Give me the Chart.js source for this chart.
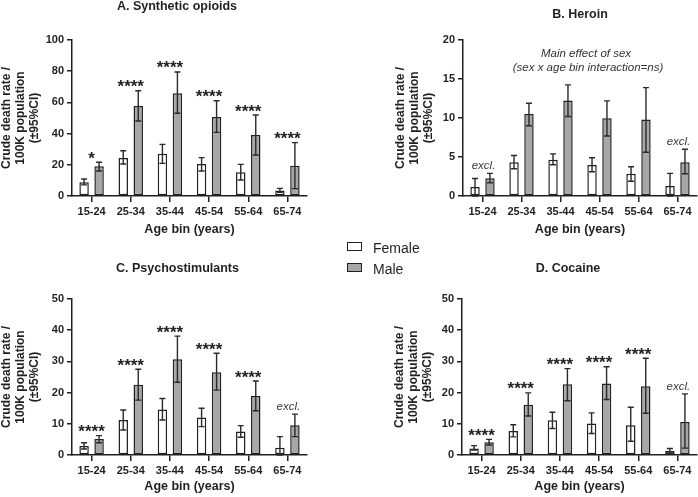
<!DOCTYPE html>
<html>
<head>
<meta charset="utf-8">
<script src="https://cdn.jsdelivr.net/npm/chart.js@4.4.1/dist/chart.umd.min.js"></script>
<style>
  body { margin: 0; background: #fff; width: 698px; height: 497px; position: relative; overflow: hidden;
         font-family: "Liberation Sans", Arial, sans-serif; }
  canvas { position: absolute; }
  #legend { position: absolute; left: 347px; top: 240px; font-size: 14px; color: #231f20; }
  .row { position: absolute; left: 0; height: 16px; line-height: 16px; white-space: nowrap; }
  .box { position: absolute; left: 0; top: 2px; width: 13px; height: 7px; border: 1.5px solid #231f20; }
  .lbl { position: absolute; left: 26px; top: 0; }
</style>
</head>
<body>
<canvas id="chartA" width="349" height="249" style="left:0;top:0"></canvas>
<canvas id="chartB" width="349" height="249" style="left:349px;top:0"></canvas>
<canvas id="chartC" width="349" height="248" style="left:0;top:249px"></canvas>
<canvas id="chartD" width="349" height="248" style="left:349px;top:249px"></canvas>
<div id="legend">
  <div class="row" style="top:0"><span class="box" style="background:#fff"></span><span class="lbl">Female</span></div>
  <div class="row" style="top:21px"><span class="box" style="background:#a7a7a7"></span><span class="lbl">Male</span></div>
</div>
<script>
const ageBins = ['15-24', '25-34', '35-44', '45-54', '55-64', '65-74'];

// A. synthetic opioids
const opioidFemale   = [8.8, 24.4, 27.1, 20.5, 15.2, 3.6];
const opioidFemaleLo = [7.1, 20.5, 20.9, 16.0, 10.3, 2.4];
const opioidFemaleHi = [10.9, 29.0, 33.1, 24.6, 20.3, 4.9];
const opioidMale     = [19.0, 57.7, 65.8, 50.6, 39.1, 19.4];
const opioidMaleLo   = [16.0, 48.1, 53.0, 40.8, 26.3, 4.7];
const opioidMaleHi   = [21.6, 67.5, 79.5, 61.1, 51.9, 34.2];
const opioidMarks    = ['*', '****', '****', '****', '****', '****'];

// B. heroin
const heroinFemale   = [1.15, 4.34, 4.64, 3.96, 2.85, 1.28];
const heroinFemaleLo = [0, 3.5, 4.0, 3.1, 1.9, 0];
const heroinFemaleHi = [2.25, 5.2, 5.4, 4.9, 3.75, 2.9];
const heroinMale     = [2.26, 10.5, 12.25, 9.96, 9.8, 4.34];
const heroinMaleLo   = [1.7, 9.0, 10.2, 7.7, 5.6, 2.85];
const heroinMaleHi   = [2.9, 11.9, 14.25, 12.2, 13.9, 6.0];
const heroinMarks    = ['excl.', '', '', '', '', 'excl.'];
const heroinNote     = ['Main effect of sex', '(sex x age bin interaction=ns)'];

// C. psychostimulants
const psychoFemale   = [2.9, 11.2, 14.6, 12.0, 7.5, 2.35];
const psychoFemaleLo = [1.9, 8.0, 11.2, 9.1, 5.7, 0];
const psychoFemaleHi = [3.95, 14.4, 18.1, 15.0, 9.4, 5.9];
const psychoMale     = [5.1, 22.5, 30.7, 26.5, 18.9, 9.5];
const psychoMaleLo   = [3.95, 17.6, 23.3, 20.8, 14.2, 5.9];
const psychoMaleHi   = [6.2, 27.5, 38.1, 32.6, 23.7, 13.1];
const psychoMarks    = ['****', '****', '****', '****', '****', 'excl.'];

// D. cocaine
const cocaineFemale   = [2.1, 7.7, 11.1, 10.1, 9.5, 1.27];
const cocaineFemaleLo = [1.6, 5.8, 8.5, 6.9, 4.4, 0.6];
const cocaineFemaleHi = [3.0, 9.7, 13.7, 13.5, 15.3, 2.1];
const cocaineMale     = [4.1, 16.1, 22.7, 22.9, 22.0, 10.6];
const cocaineMaleLo   = [3.2, 12.5, 17.4, 17.8, 13.4, 2.2];
const cocaineMaleHi   = [5.0, 19.9, 27.7, 28.3, 31.0, 19.6];
const cocaineMarks    = ['****', '****', '****', '****', '****', 'excl.'];

const ink = '#231f20';
const font = '"Liberation Sans", Arial, sans-serif';

// error bars, stars / excl. and the panel title
const extras = {
  id: 'extras',
  afterDatasetsDraw(chart, args, o) {
    const ctx = chart.ctx;
    const y = chart.scales.y;
    const area = chart.chartArea;
    ctx.save();
    ctx.strokeStyle = '#2a2a2a';
    ctx.lineWidth = 1.4;
    o.errors.forEach((pair, di) => {
      chart.getDatasetMeta(di).data.forEach((bar, i) => {
        const top = y.getPixelForValue(pair[1][i]);
        const bot = y.getPixelForValue(pair[0][i]);
        ctx.beginPath();
        ctx.moveTo(bar.x, top); ctx.lineTo(bar.x, bot);
        ctx.moveTo(bar.x - 3, top); ctx.lineTo(bar.x + 3, top);
        ctx.moveTo(bar.x - 3, bot); ctx.lineTo(bar.x + 3, bot);
        ctx.stroke();
      });
    });

    ctx.textAlign = 'center';
    ctx.textBaseline = 'alphabetic';
    const x = chart.scales.x;
    o.marks.forEach((m, i) => {
      if (!m) return;
      const top = y.getPixelForValue(Math.max(o.errors[0][1][i], o.errors[1][1][i]));
      const cx = x.getPixelForValue(i);
      if (m === 'excl.') {
        ctx.font = 'italic 11.5px ' + font;
        ctx.fillStyle = '#3a3a3a';
        ctx.fillText(m, cx + 1, top - 4);
      } else {
        ctx.font = 'bold 17px ' + font;
        ctx.fillStyle = ink;
        ctx.fillText(m, cx, top + 1.5);
      }
    });

    if (o.note) {
      ctx.font = 'italic 11.5px ' + font;
      ctx.fillStyle = '#333';
      ctx.textBaseline = 'middle';
      const cx = (area.left + area.right) / 2 + 6;
      o.note.forEach((line, i) => ctx.fillText(line, cx + i * 2, area.top + 14 + i * 14));
    }

    ctx.font = 'bold 12.5px ' + font;
    ctx.fillStyle = ink;
    ctx.textBaseline = 'middle';
    ctx.fillText(o.title, o.titleX, o.titleY);
    ctx.restore();
  }
};

function panel(id, p) {
  return new Chart(document.getElementById(id), {
    type: 'bar',
    data: {
      labels: ageBins,
      datasets: [
        { label: 'Female', data: p.female, backgroundColor: '#ffffff', borderColor: ink, borderWidth: 1.5, borderSkipped: false },
        { label: 'Male', data: p.male, backgroundColor: '#a7a7a7', borderColor: ink, borderWidth: 1.5, borderSkipped: false }
      ]
    },
    options: {
      responsive: false,
      animation: false,
      categoryPercentage: 0.766,
      barPercentage: 0.63,
      layout: { padding: p.pad },
      plugins: {
        legend: { display: false },
        tooltip: { enabled: false },
        extras: { errors: p.errors, marks: p.marks, note: p.note, title: p.title, titleX: p.titleX, titleY: p.titleY }
      },
      scales: {
        x: {
          z: 1,
          grid: { offset: false, drawOnChartArea: false, tickLength: 6, color: ink, lineWidth: 1.5 },
          border: { color: ink, width: 1.5 },
          ticks: { color: ink, padding: 3, maxRotation: 0, autoSkip: false, font: { family: font, size: 11, weight: 'bold' } },
          title: { display: true, text: 'Age bin (years)', color: ink, padding: { top: 0, bottom: p.xtPad },
                   font: { family: font, size: 12.5, weight: 'bold', lineHeight: 1.2 } },
          afterFit: s => { s.height = p.xh; }
        },
        y: {
          min: 0, max: p.max,
          grid: { drawOnChartArea: false, tickLength: 5, color: ink, lineWidth: 1.5 },
          border: { color: ink, width: 1.5 },
          ticks: { stepSize: p.step, color: ink, padding: 3, font: { family: font, size: 11, weight: 'bold' } },
          title: { display: true, text: ['Crude death rate /', '100K population', '(±95%CI)'], color: ink,
                   padding: { top: 0, bottom: 0 }, font: { family: font, size: 12, weight: 'bold', lineHeight: 1.15 } },
          afterFit: s => { s.width = p.yw; }
        }
      }
    },
    plugins: [extras]
  });
}

panel('chartA', {
  female: opioidFemale, male: opioidMale,
  errors: [[opioidFemaleLo, opioidFemaleHi], [opioidMaleLo, opioidMaleHi]],
  marks: opioidMarks, max: 100, step: 20,
  title: 'A. Synthetic opioids', titleX: 177, titleY: 7,
  pad: { left: 0, top: 40, right: 42, bottom: 0 }, yw: 72, xh: 53, xtPad: 11.5
});
panel('chartB', {
  female: heroinFemale, male: heroinMale,
  errors: [[heroinFemaleLo, heroinFemaleHi], [heroinMaleLo, heroinMaleHi]],
  marks: heroinMarks, note: heroinNote, max: 20, step: 5,
  title: 'B. Heroin', titleX: 231, titleY: 15,
  pad: { left: 45, top: 40, right: 1, bottom: 0 }, yw: 69, xh: 53, xtPad: 11.5
});
panel('chartC', {
  female: psychoFemale, male: psychoMale,
  errors: [[psychoFemaleLo, psychoFemaleHi], [psychoMaleLo, psychoMaleHi]],
  marks: psychoMarks, max: 50, step: 10,
  title: 'C. Psychostimulants', titleX: 177.5, titleY: 20,
  pad: { left: 0, top: 50, right: 42, bottom: 0 }, yw: 72, xh: 42, xtPad: 3
});
panel('chartD', {
  female: cocaineFemale, male: cocaineMale,
  errors: [[cocaineFemaleLo, cocaineFemaleHi], [cocaineMaleLo, cocaineMaleHi]],
  marks: cocaineMarks, max: 50, step: 10,
  title: 'D. Cocaine', titleX: 219, titleY: 20,
  pad: { left: 44, top: 50, right: 1, bottom: 0 }, yw: 69, xh: 42, xtPad: 3
});
</script>
</body>
</html>
